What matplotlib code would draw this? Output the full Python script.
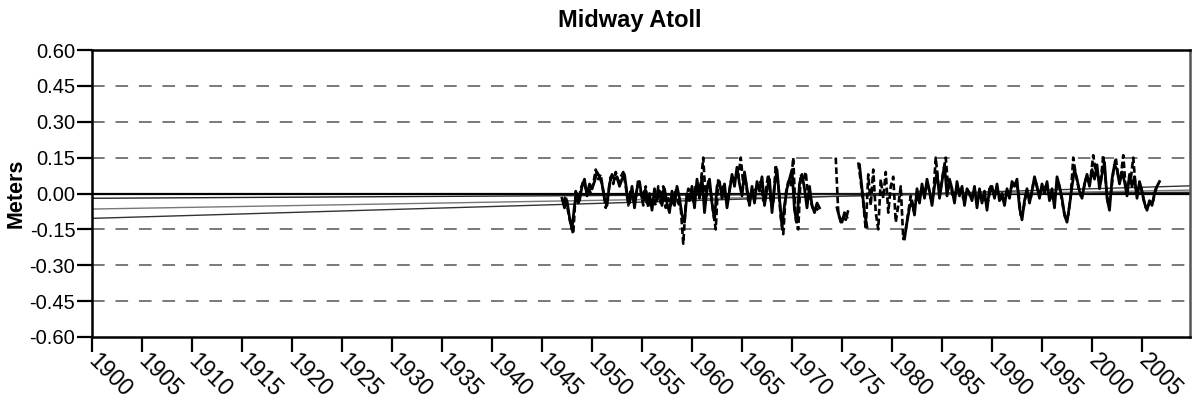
#!/usr/bin/env python3
import numpy as np
import matplotlib

matplotlib.use("Agg")
import matplotlib.pyplot as plt

plt.rcParams["font.family"] = ["Liberation Sans", "DejaVu Sans"]

nan = np.nan

# quarterly sea level anomaly (m), solid record, 1947.0 .. 2006.75
start_year = 1947.0
step = 0.25
sea_level = [
    -0.02, -0.06, -0.03, -0.10,   # 1947
    -0.15, -0.05, 0.00, -0.03,    # 1948
    0.03, 0.06, -0.01, 0.04,      # 1949
    0.02, 0.05, 0.09, 0.07,       # 1950
    0.04, -0.02, -0.05, 0.04,     # 1951
    0.08, 0.06, 0.07, 0.03,       # 1952
    0.06, 0.08, 0.00, -0.04,      # 1953
    0.03, -0.06, 0.02, 0.05,      # 1954
    -0.02, 0.01, -0.04, 0.00,     # 1955
    -0.07, 0.02, -0.03, 0.01,     # 1956
    -0.05, 0.02, -0.04, -0.08,    # 1957
    0.01, -0.05, 0.03, -0.02,     # 1958
    -0.09, -0.12, 0.00, -0.03,    # 1959
    0.03, -0.06, 0.06, -0.02,     # 1960
    0.07, -0.08, 0.02, 0.06,      # 1961
    -0.04, -0.11, 0.03, 0.05,     # 1962
    -0.02, 0.04, -0.06, 0.01,     # 1963
    0.08, 0.03, 0.11, 0.04,       # 1964
    -0.01, 0.09, 0.02, -0.05,     # 1965
    0.03, -0.04, 0.05, 0.01,      # 1966
    0.07, -0.05, 0.02, 0.06,      # 1967
    -0.08, 0.03, 0.10, -0.02,     # 1968
    -0.14, -0.05, 0.02, 0.06,     # 1969
    0.10, -0.07, -0.12, 0.04,     # 1970
    0.08, 0.02, -0.06, 0.03,      # 1971
    -0.05, -0.08, -0.04, -0.06,   # 1972
    nan, nan, nan, nan,           # 1973
    nan, nan, -0.06, -0.10,       # 1974
    -0.12, -0.08, -0.10, nan,     # 1975
    nan, nan, nan, 0.12,          # 1976
    0.02, -0.08, -0.14, nan,      # 1977
    nan, nan, nan, nan,           # 1978
    nan, nan, nan, nan,           # 1979
    nan, nan, nan, nan,           # 1980
    nan, -0.19, -0.12, -0.06,     # 1981
    -0.03, -0.09, 0.02, -0.04,    # 1982
    0.04, -0.02, 0.06, 0.01,      # 1983
    -0.05, 0.03, 0.09, -0.02,     # 1984
    0.05, 0.12, -0.01, 0.06,      # 1985
    0.02, -0.04, 0.05, -0.01,     # 1986
    0.03, -0.05, 0.02, 0.00,      # 1987
    -0.03, 0.03, -0.06, 0.02,     # 1988
    -0.04, 0.01, -0.07, 0.02,     # 1989
    0.03, -0.02, 0.04, -0.03,     # 1990
    0.00, -0.05, 0.02, -0.02,     # 1991
    0.05, 0.03, 0.06, -0.06,      # 1992
    -0.11, -0.03, 0.02, -0.04,    # 1993
    0.01, 0.07, 0.03, -0.02,      # 1994
    0.04, 0.00, 0.05, -0.03,      # 1995
    0.02, -0.06, 0.07, 0.03,      # 1996
    -0.02, -0.09, -0.12, -0.05,   # 1997
    0.03, 0.10, 0.06, 0.01,       # 1998
    -0.02, 0.04, 0.08, 0.03,      # 1999
    0.10, 0.06, 0.12, 0.02,       # 2000
    0.08, 0.13, -0.02, -0.07,     # 2001
    0.06, 0.12, 0.10, 0.04,       # 2002
    0.09, 0.05, -0.01, 0.08,      # 2003
    0.03, 0.07, -0.02, 0.05,      # 2004
    0.01, -0.04, -0.07, -0.03,    # 2005
    -0.05, 0.00, 0.03, 0.05,      # 2006
]

# second (dashed) record, sampled half a quarter later, 1947.125 .. 2006.875
dashed_start = 1947.125
dashed_level = [
    -0.04, -0.01, -0.08, -0.13,   # 1947
    -0.17, 0.01, -0.04, 0.02,     # 1948
    0.05, 0.02, 0.03, 0.00,       # 1949
    0.04, 0.10, 0.06, 0.08,       # 1950
    0.01, -0.06, 0.00, 0.07,      # 1951
    0.04, 0.09, 0.05, 0.07,       # 1952
    0.09, 0.03, -0.05, 0.01,      # 1953
    -0.03, -0.02, 0.06, 0.01,     # 1954
    -0.05, 0.03, -0.06, -0.03,    # 1955
    -0.02, -0.05, 0.03, -0.04,    # 1956
    0.03, -0.06, -0.02, -0.05,    # 1957
    -0.03, 0.02, -0.04, -0.06,    # 1958
    -0.21, -0.04, 0.02, 0.01,     # 1959
    -0.04, 0.04, 0.01, 0.04,      # 1960
    0.15, -0.03, 0.05, 0.00,      # 1961
    -0.08, -0.15, 0.06, 0.01,     # 1962
    0.03, -0.03, -0.02, 0.05,     # 1963
    0.06, 0.08, 0.07, 0.15,       # 1964
    0.04, 0.05, -0.03, 0.00,      # 1965
    -0.01, 0.02, 0.03, 0.05,      # 1966
    -0.03, 0.01, 0.08, -0.03,     # 1967
    -0.04, 0.12, 0.04, -0.10,     # 1968
    -0.17, 0.00, 0.05, 0.03,      # 1969
    0.15, -0.11, -0.15, 0.08,     # 1970
    0.05, 0.09, -0.02, -0.03,     # 1971
    -0.07, -0.06, -0.07, nan,     # 1972
    nan, nan, nan, nan,           # 1973
    nan, 0.15, -0.08, -0.12,      # 1974
    -0.10, -0.11, -0.07, nan,     # 1975
    nan, nan, 0.13, 0.05,         # 1976
    -0.04, -0.15, 0.08, -0.05,    # 1977
    0.10, -0.08, -0.15, 0.06,     # 1978
    -0.02, 0.09, -0.08, 0.03,     # 1979
    0.07, -0.12, -0.05, 0.03,     # 1980
    -0.19, -0.15, -0.08, -0.01,   # 1981
    -0.07, -0.03, -0.02, 0.01,    # 1982
    0.02, 0.03, 0.03, -0.02,      # 1983
    -0.01, 0.15, 0.04, 0.02,      # 1984
    0.09, 0.15, 0.02, 0.03,       # 1985
    -0.02, 0.01, 0.02, 0.01,      # 1986
    -0.02, -0.01, 0.01, -0.02,    # 1987
    0.00, -0.02, -0.02, -0.01,    # 1988
    -0.02, -0.03, -0.03, 0.03,    # 1989
    0.00, 0.01, 0.00, -0.01,      # 1990
    -0.03, -0.01, 0.00, 0.02,     # 1991
    0.04, 0.05, 0.01, -0.09,      # 1992
    -0.07, -0.01, -0.01, -0.02,   # 1993
    0.04, 0.05, 0.00, 0.01,       # 1994
    0.02, 0.03, 0.01, 0.00,       # 1995
    -0.03, 0.01, 0.05, 0.00,      # 1996
    -0.06, -0.11, -0.09, -0.01,   # 1997
    0.15, 0.08, 0.03, -0.01,      # 1998
    0.01, 0.06, 0.05, 0.07,       # 1999
    0.16, 0.09, 0.07, 0.05,       # 2000
    0.16, 0.05, -0.05, -0.01,     # 2001
    0.09, 0.15, 0.07, 0.07,       # 2002
    0.16, 0.02, 0.04, 0.06,       # 2003
    0.15, 0.02, 0.02, 0.03,       # 2004
    -0.02, -0.06, -0.05, -0.04,   # 2005
    -0.03, 0.02, 0.04, nan,       # 2006
]

# linear trend lines: values at 1900 and at right edge
trend_years = [1900.0, 2009.8]
trend_lines = [
    [-0.020, 0.005],
    [-0.065, 0.014],
    [-0.104, 0.032],
]
trend_colors = ["#222222", "#777777", "#333333"]

y_ticks = [0.60, 0.45, 0.30, 0.15, 0.00, -0.15, -0.30, -0.45, -0.60]
x_ticks = list(range(1900, 2006, 5))


def main() -> None:
    fig = plt.figure(figsize=(11.96, 4.01), dpi=100)
    ax = fig.add_axes([92 / 1196, 64 / 401, 1098 / 1196, 287 / 401])

    years = start_year + step * np.arange(len(sea_level))
    dashed_years = dashed_start + step * np.arange(len(dashed_level))

    for y in y_ticks:
        if y in (0.60, 0.00, -0.60):
            continue
        ax.axhline(y, color="#6e6e6e", linewidth=1.3, linestyle=(0, (7, 6)), zorder=1)

    ax.axhline(0.0, color="black", linewidth=1.6, zorder=2)
    for vals, color in zip(trend_lines, trend_colors):
        ax.plot(trend_years, vals, color=color, linewidth=1.0, zorder=2)

    ax.plot(dashed_years, dashed_level, color="black", linewidth=1.9,
            linestyle=(0, (2.5, 1.2)), zorder=3)
    ax.plot(years, sea_level, color="black", linewidth=2.0, zorder=4)

    ax.set_xlim(1900, 2009.8)
    ax.set_ylim(-0.6, 0.6)
    ax.set_yticks(y_ticks)
    ax.set_yticklabels([f"{v:.2f}" for v in y_ticks], fontsize=14.5)
    ax.set_xticks(x_ticks)
    ax.set_xticklabels([str(v) for v in x_ticks], fontsize=16.5, rotation=-45,
                       ha="left", va="center", rotation_mode="anchor")
    ax.tick_params(axis="both", direction="out", length=11, width=1.6, colors="black")
    ax.tick_params(axis="x", pad=4)
    ax.tick_params(axis="y", pad=1)
    for side, spine in ax.spines.items():
        spine.set_linewidth(1.8)
        spine.set_color("#555555" if side == "right" else "black")

    ax.set_ylabel("Meters", fontsize=15.5, fontweight="bold", labelpad=2)
    fig.text(630 / 1196, 1 - 20 / 401, "Midway Atoll", fontsize=17, fontweight="bold",
             ha="center", va="center")

    fig.savefig("out.png", dpi=100)
    plt.close(fig)


if __name__ == "__main__":
    main()
